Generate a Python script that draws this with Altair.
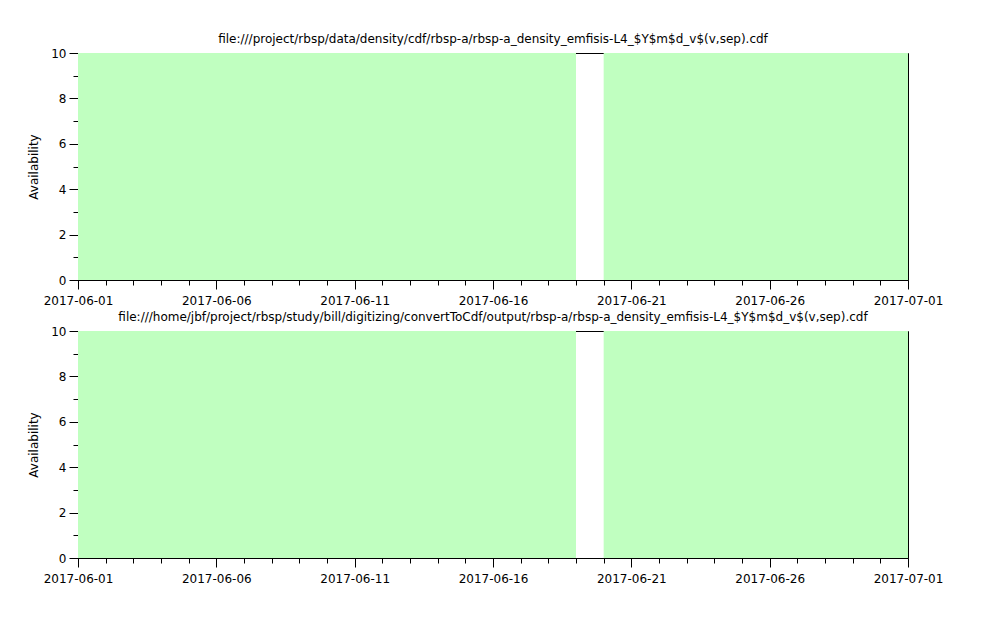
import altair as alt
import pandas as pd

# Data: availability intervals (start, end, value)
starts = ["2017-06-01", "2017-06-20"]
ends = ["2017-06-19", "2017-07-01"]
avail = [10, 10]

titles = [
    "file:///project/rbsp/data/density/cdf/rbsp-a/rbsp-a_density_emfisis-L4_$Y$m$d_v$(v,sep).cdf",
    "file:///home/jbf/project/rbsp/study/bill/digitizing/convertToCdf/output/rbsp-a/rbsp-a_density_emfisis-L4_$Y$m$d_v$(v,sep).cdf",
]

x_domain = ["2017-06-01", "2017-07-01"]
day_ticks = [int(t.value // 10**6) for t in pd.date_range("2017-06-01", "2017-07-01", freq="D", tz="UTC")]
y_ticks = list(range(0, 11))

df = pd.DataFrame({"start": starts, "end": ends, "lo": [0] * len(avail), "hi": avail})

FONT = "DejaVu Sans"
x_dom_ms = [int(pd.Timestamp(d, tz="UTC").value // 10**6) for d in x_domain]


def panel(title):
    return (
        alt.Chart(df)
        .mark_rect(color="#c0ffc0", stroke=None)
        .encode(
            x=alt.X(
                "start:T",
                scale=alt.Scale(type="utc", domain=x_dom_ms, nice=False),
                axis=alt.Axis(
                    title=None,
                    values=day_ticks,
                    labelExpr="(utcdate(datum.value)-1) % 5 == 0 ? utcFormat(datum.value, '%Y-%m-%d') : ''",
                    tickSize={"condition": {"test": "(utcdate(datum.value)-1) % 5 == 0", "value": 9}, "value": 5},
                    labelPadding=6,
                    labelFlush=False,
                    labelOverlap=False,
                    grid=False,
                ),
            ),
            x2="end:T",
            y=alt.Y(
                "lo:Q",
                scale=alt.Scale(domain=[0, 10], nice=False),
                axis=alt.Axis(
                    title="Availability",
                    values=y_ticks,
                    labelExpr="datum.value % 2 == 0 ? datum.label : ''",
                    tickSize={"condition": {"test": "datum.value % 2 == 0", "value": 9}, "value": 5},
                    labelPadding=3,
                    titlePadding=10,
                    grid=False,
                    labelOverlap=False,
                ),
            ),
            y2="hi:Q",
        )
        .properties(
            width=830,
            height=227,
            title=alt.TitleParams(title, fontSize=12, fontWeight="normal", font=FONT, offset=1, anchor="middle"),
        )
    )


chart = (
    alt.vconcat(panel(titles[0]), panel(titles[1]), spacing=3)
    .properties(padding={"left": 19, "top": 24, "right": 5, "bottom": 5})
    .configure_view(stroke="black", strokeWidth=1)
    .configure_axis(
        domainColor="black",
        tickColor="black",
        labelColor="black",
        titleColor="black",
        labelFont=FONT,
        titleFont=FONT,
        labelFontSize=12,
        titleFontSize=12,
        titleFontWeight="normal",
        domainWidth=1,
        tickWidth=1,
    )
)

chart.save("out.html", embed_options={"renderer": "svg", "actions": False})
